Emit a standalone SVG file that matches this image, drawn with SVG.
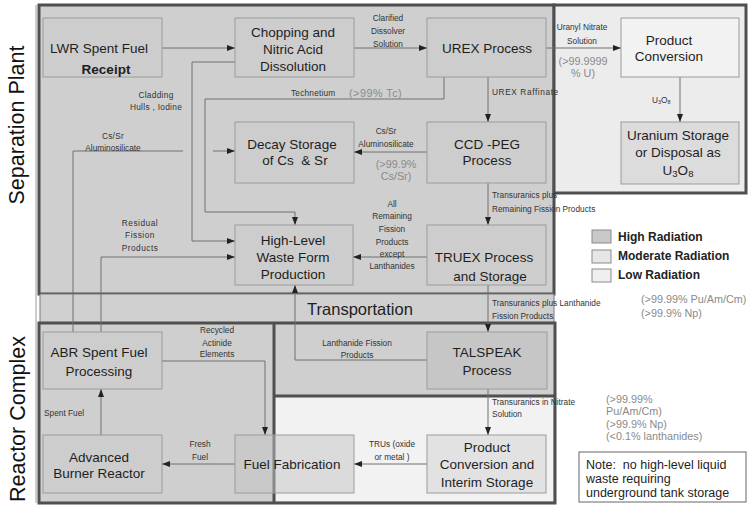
<svg xmlns="http://www.w3.org/2000/svg" width="751" height="507" viewBox="0 0 751 507">
<style>
.reg{stroke:#4f4f4f;stroke-width:3}
.node rect{stroke:#9c9c9c;stroke-width:1}
.hi{fill:#cdcdcd}
.lo{fill:#f1f1f1}
.mo{fill:#dcdcdc}
text{font-family:"Liberation Sans",Arial,sans-serif}
.t{font-size:13.5px;fill:#1e1e1e;text-anchor:middle}
.s{font-size:8.3px;fill:#333}
.sc{font-size:8.3px;fill:#333;text-anchor:middle}
.g{font-size:10.8px;fill:#8a8a8a}
.gc{font-size:10.8px;fill:#8a8a8a;text-anchor:middle}
.c{stroke:#707070;stroke-width:1;fill:none;marker-end:url(#a)}
.side{font-size:21.5px;fill:#111;text-anchor:middle}
.leg{font-size:12px;font-weight:bold;fill:#222}
</style>
<defs>
<marker id="a" markerUnits="userSpaceOnUse" markerWidth="9" markerHeight="7" refX="8" refY="3.5" orient="auto">
<path d="M0,0.5 L8,3.5 L0,6.5 z" fill="#222"/>
</marker>
</defs>
<rect width="751" height="507" fill="#ffffff"/>
<g id="regions">
<line x1="36" y1="5" x2="36" y2="503" stroke="#9a9a9a" stroke-width="1"/>
<rect x="39" y="5" width="515" height="289" class="reg" fill="#cfcfcf"/>
<rect x="554" y="5" width="192" height="188" class="reg" fill="#ececec"/>
<rect x="40" y="294" width="514" height="29" fill="#d0d0d0" stroke="#7a7a7a" stroke-width="1"/>
<rect x="39" y="323" width="516" height="180" class="reg" fill="#cfcfcf"/>
<rect x="275" y="397" width="278" height="104" fill="#f2f2f2"/>
<line x1="274" y1="323" x2="274" y2="503" class="reg"/>
<line x1="274" y1="396" x2="555" y2="396" class="reg"/>
<text class="side" transform="translate(24,125) rotate(-90)">Separation Plant</text>
<text class="side" transform="translate(25,419) rotate(-90)">Reactor Complex</text>
<text x="360" y="315" font-size="16.5" fill="#1e1e1e" text-anchor="middle">Transportation</text>
</g>
<g id="connectors">
<line x1="162" y1="48" x2="235" y2="48" class="c"/>
<line x1="354" y1="48" x2="427" y2="48" class="c"/>
<line x1="546" y1="48" x2="621" y2="48" class="c"/>
<line x1="680" y1="77" x2="680" y2="122" class="c"/>
<line x1="488" y1="77" x2="488" y2="122" class="c"/>
<polyline points="444,77 444,99 205,99 205,212 295,212 295,225" class="c"/>
<polyline points="235,62 192,62 192,241 235,241" class="c"/>
<polyline points="101,332 101,257 235,257" class="c"/>
<path d="M73,332 V151 H183 M213,151 H235" class="c"/>
<line x1="427" y1="152" x2="354" y2="152" class="c"/>
<line x1="488" y1="183" x2="488" y2="225" class="c"/>
<line x1="427" y1="257" x2="353" y2="257" class="c"/>
<line x1="488" y1="285" x2="488" y2="332" class="c"/>
<polyline points="427,360 295,360 295,285" class="c"/>
<polyline points="162,361 265,361 265,435" class="c"/>
<line x1="101" y1="435" x2="101" y2="389" class="c"/>
<line x1="235" y1="464" x2="162" y2="464" class="c"/>
<line x1="488" y1="389" x2="488" y2="435" class="c"/>
<line x1="427" y1="464" x2="354" y2="464" class="c"/>
</g>
<g id="labels">
<text class="sc" x="388" y="21">Clarified</text>
<text class="sc" x="388" y="34">Dissolver</text>
<text class="sc" x="388" y="47">Solution</text>
<text class="sc" x="582" y="30">Uranyl Nitrate</text>
<text class="sc" x="582" y="44">Solution</text>
<text class="gc" x="583" y="65">(&gt;99.9999</text>
<text class="gc" x="583" y="77">% U)</text>
<text class="s" x="652" y="103" font-size="7">U<tspan font-size="5.5" dy="1">3</tspan><tspan dy="-1">O</tspan><tspan font-size="5.5" dy="1">8</tspan></text>
<text class="s" x="492" y="95" letter-spacing="0.6">UREX Raffinate</text>
<text class="s" x="291" y="96" letter-spacing="0.2">Technetium</text>
<text class="g" x="349" y="97" letter-spacing="0.5">(&gt;99% Tc)</text>
<text class="sc" x="156" y="98" letter-spacing="0.3">Cladding</text>
<text class="sc" x="156" y="110" letter-spacing="0.3">Hulls , Iodine</text>
<text class="sc" x="113" y="139" letter-spacing="0.3">Cs/Sr</text>
<text class="sc" x="113" y="151">Aluminosilicate</text>
<text class="sc" x="386" y="134">Cs/Sr</text>
<text class="sc" x="386" y="147">Aluminosilicate</text>
<text class="gc" x="396" y="168">(&gt;99.9%</text>
<text class="gc" x="396" y="180">Cs/Sr)</text>
<text class="s" x="492" y="198">Transuranics plus</text>
<text class="s" x="492" y="212">Remaining Fission Products</text>
<text class="sc" x="140" y="226" letter-spacing="0.5">Residual</text>
<text class="sc" x="140" y="238" letter-spacing="0.5">Fission</text>
<text class="sc" x="140" y="251" letter-spacing="0.5">Products</text>
<text class="sc" x="392" y="207">All</text>
<text class="sc" x="392" y="219">Remaining</text>
<text class="sc" x="392" y="232">Fission</text>
<text class="sc" x="392" y="245">Products</text>
<text class="sc" x="392" y="257">except</text>
<text class="sc" x="392" y="269">Lanthanides</text>
<text class="s" x="492" y="306">Transuranics plus Lanthanide</text>
<text class="s" x="492" y="319">Fission Products</text>
<text class="g" x="641" y="303">(&gt;99.99% Pu/Am/Cm)</text>
<text class="g" x="641" y="317">(&gt;99.9% Np)</text>
<text class="sc" x="217" y="333">Recycled</text>
<text class="sc" x="217" y="346">Actinide</text>
<text class="sc" x="217" y="357">Elements</text>
<text class="sc" x="357" y="346">Lanthanide Fission</text>
<text class="sc" x="357" y="358">Products</text>
<text class="s" x="44" y="416">Spent Fuel</text>
<text class="sc" x="200" y="447">Fresh</text>
<text class="sc" x="200" y="460">Fuel</text>
<text class="sc" x="392" y="447">TRUs (oxide</text>
<text class="sc" x="392" y="460" xml:space="preserve">or metal )</text>
<text class="s" x="492" y="405">Transuranics in Nitrate</text>
<text class="s" x="492" y="417">Solution</text>
<text class="g" x="606" y="403">(&gt;99.99%</text>
<text class="g" x="606" y="415">Pu/Am/Cm)</text>
<text class="g" x="606" y="428">(&gt;99.9% Np)</text>
<text class="g" x="606" y="440">(&lt;0.1% lanthanides)</text>
</g>
<g id="lwr" class="node"><rect x="43" y="18" width="119" height="59" class="hi"/><text class="t" x="99" y="53">LWR Spent Fuel</text><text class="t" x="106" y="74" font-size="12.5" font-weight="bold">Receipt</text></g>
<g id="chopping" class="node"><rect x="235" y="18" width="119" height="59" class="hi"/><text class="t" x="293" y="37">Chopping and</text><text class="t" x="293" y="54">Nitric Acid</text><text class="t" x="293" y="71">Dissolution</text></g>
<g id="urex" class="node"><rect x="427" y="18" width="119" height="59" class="hi"/><text class="t" x="487" y="53">UREX Process</text></g>
<g id="productconv" class="node"><rect x="621" y="18" width="118" height="59" fill="#f2f2f2"/><text class="t" x="669" y="45">Product</text><text class="t" x="669" y="61">Conversion</text></g>
<g id="uranium" class="node"><rect x="621" y="122" width="118" height="62" class="mo"/><text class="t" x="678" y="140">Uranium Storage</text><text class="t" x="678" y="157">or Disposal as</text><text class="t" x="678" y="175">U<tspan font-size="9.5" dy="2">3</tspan><tspan dy="-2">O</tspan><tspan font-size="9.5" dy="2">8</tspan></text></g>
<g id="decay" class="node"><rect x="235" y="122" width="119" height="61" class="hi"/><text class="t" x="292" y="149">Decay Storage</text><text class="t" x="295" y="165" xml:space="preserve">of Cs  &amp; Sr</text></g>
<g id="ccdpeg" class="node"><rect x="427" y="122" width="119" height="61" class="hi"/><text class="t" x="487" y="149">CCD -PEG</text><text class="t" x="487" y="165">Process</text></g>
<g id="hlw" class="node"><rect x="235" y="225" width="118" height="60" class="hi"/><text class="t" x="293" y="245">High-Level</text><text class="t" x="293" y="262">Waste Form</text><text class="t" x="293" y="279">Production</text></g>
<g id="truex" class="node"><rect x="427" y="225" width="119" height="60" class="hi"/><text class="t" x="484" y="262">TRUEX Process</text><text class="t" x="490" y="281">and Storage</text></g>
<g id="talspeak" class="node"><rect x="427" y="332" width="120" height="57" fill="#c6c6c6"/><text class="t" x="487" y="357">TALSPEAK</text><text class="t" x="487" y="375">Process</text></g>
<g id="abrproc" class="node"><rect x="43" y="332" width="119" height="57" class="hi"/><text class="t" x="99" y="357">ABR Spent Fuel</text><text class="t" x="99" y="376">Processing</text></g>
<g id="abr" class="node"><rect x="43" y="435" width="119" height="58" class="hi"/><text class="t" x="99" y="462">Advanced</text><text class="t" x="99" y="478">Burner Reactor</text></g>
<g id="fuelfab" class="node"><rect x="235" y="435" width="119" height="58" fill="#c4c4c4" fill-opacity="0.5"/><text class="t" x="292" y="469">Fuel Fabrication</text></g>
<g id="prodinterim" class="node"><rect x="427" y="435" width="119" height="58" fill="#e2e2e2"/><text class="t" x="487" y="452">Product</text><text class="t" x="487" y="469">Conversion and</text><text class="t" x="487" y="487">Interim Storage</text></g>
<g id="legend">
<rect x="592" y="230" width="19" height="13" fill="#c8c8c8" stroke="#8a8a8a" stroke-width="1"/>
<rect x="592" y="250" width="19" height="13" fill="#e6e6e6" stroke="#8a8a8a" stroke-width="1"/>
<rect x="592" y="269" width="19" height="13" fill="#efefef" stroke="#8a8a8a" stroke-width="1"/>
<text class="leg" x="618" y="241">High Radiation</text>
<text class="leg" x="618" y="260">Moderate Radiation</text>
<text class="leg" x="618" y="279">Low Radiation</text>
</g>
<g id="note">
<rect x="579" y="452" width="167" height="50" fill="#ffffff" stroke="#666" stroke-width="1"/>
<text x="586" y="469" font-size="12.5" fill="#1e1e1e" xml:space="preserve">Note:  no high-level liquid</text>
<text x="586" y="483" font-size="12.5" fill="#1e1e1e">waste requiring</text>
<text x="586" y="497" font-size="12.5" fill="#1e1e1e">underground tank storage</text>
</g>
</svg>
